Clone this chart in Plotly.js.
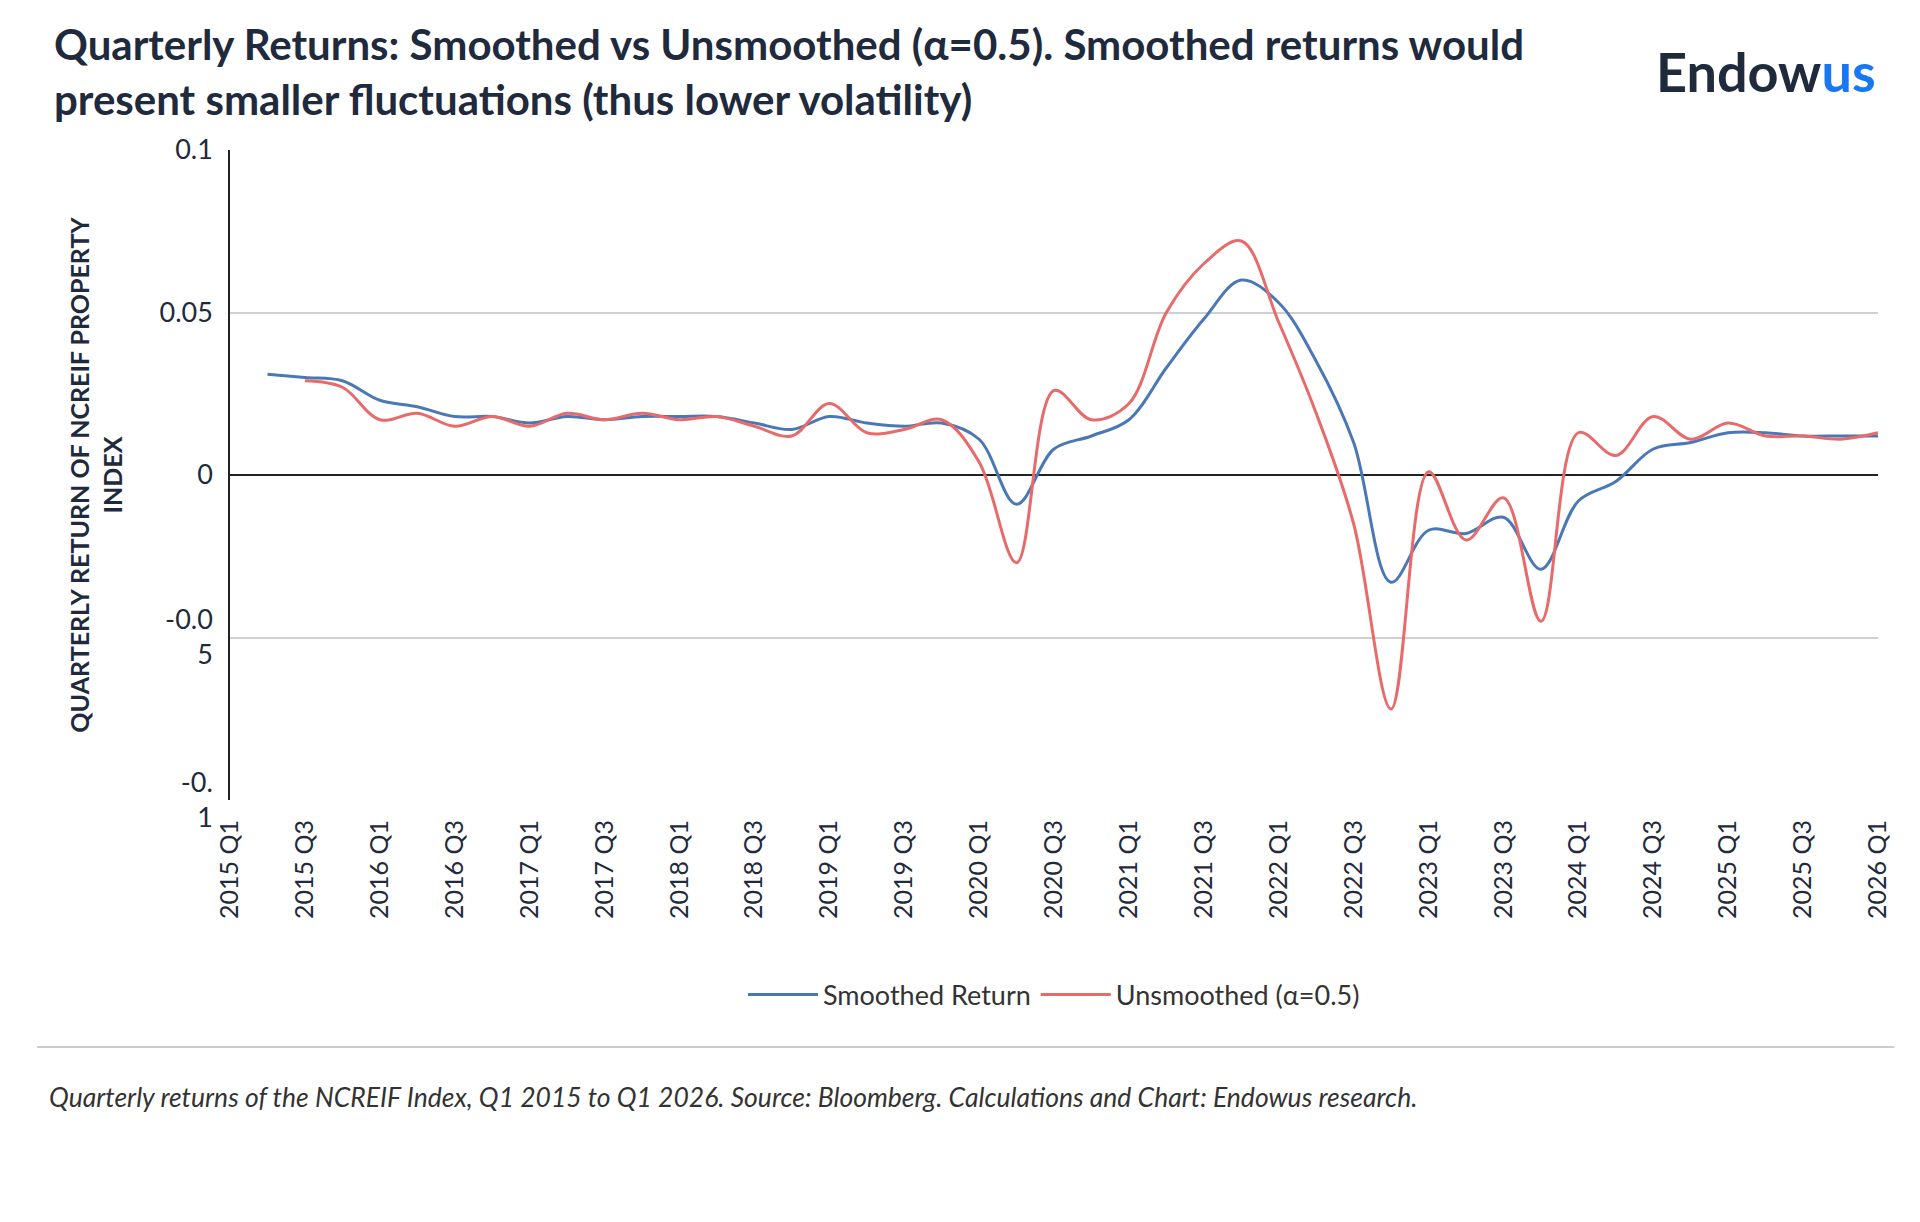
<!DOCTYPE html>
<html><head><meta charset="utf-8">
<script src="https://cdn.plot.ly/plotly-3.0.1.min.js"></script>
<style>body{margin:0;background:#fff}#chart{width:1920px;height:1222px}</style>
</head><body><div id="chart"></div>
<script>
// quarters 2015 Q1 .. 2026 Q1
const quarters = [];
for (let y = 2015; y <= 2026; y++) for (let q = 1; q <= 4; q++) if (!(y === 2026 && q > 1)) quarters.push(y + ' Q' + q);

const smoothed = [null, 0.031, 0.030, 0.029, 0.023, 0.021, 0.018, 0.018, 0.016, 0.018, 0.017, 0.018,
    0.018, 0.018, 0.016, 0.014, 0.018, 0.016, 0.015, 0.016, 0.011, -0.009, 0.008, 0.012,
    0.017, 0.033, 0.048, 0.060, 0.053, 0.035, 0.010, -0.033, -0.017, -0.018, -0.013, -0.029,
    -0.008, -0.002, 0.008, 0.010, 0.013, 0.013, 0.012, 0.012, 0.012];
const unsmoothed = [null, null, 0.029, 0.027, 0.017, 0.019, 0.015, 0.018, 0.015, 0.019, 0.017, 0.019,
    0.017, 0.018, 0.015, 0.012, 0.022, 0.013, 0.014, 0.017, 0.004, -0.027, 0.026, 0.017,
    0.022, 0.050, 0.065, 0.072, 0.047, 0.019, -0.015, -0.072, 0.001, -0.020, -0.007, -0.045,
    0.013, 0.006, 0.018, 0.011, 0.016, 0.012, 0.012, 0.011, 0.013];

const yTickVals = [0.1, 0.05, 0, -0.05, -0.1];
const yTickText = ['0.1', '0.05', '0', '-0.0<br>5', '-0.<br>1'];
const tickQuarters = quarters.filter((q, i) => i % 2 === 0);

const font = "Lato, 'Open Sans', sans-serif";

Plotly.newPlot('chart', [
    {x: quarters, y: smoothed, name: 'Smoothed Return', type: 'scatter', mode: 'lines',
     line: {color: '#4a78b5', width: 3, shape: 'spline'}},
    {x: quarters, y: unsmoothed, name: 'Unsmoothed (α=0.5)', type: 'scatter', mode: 'lines',
     line: {color: '#e86a6a', width: 3, shape: 'spline'}},
], {
    width: 1920, height: 1222,
    paper_bgcolor: '#fff', plot_bgcolor: '#fff',
    font: {family: font, color: '#1f2a3c', size: 24},
    margin: {l: 230, r: 42, t: 150, b: 422},
    showlegend: true,
    legend: {orientation: 'h', x: 0.5, xanchor: 'center', y: -0.3, yanchor: 'middle',
             font: {size: 27, color: '#333'}, itemwidth: 70, tracegroupgap: 40},
    xaxis: {type: 'category', tickvals: tickQuarters, tickangle: -90, showgrid: false,
            tickfont: {size: 25, color: '#1f2a3c'}, ticks: '', showline: false, zeroline: false,
            ticklabelstandoff: 14},
    yaxis: {range: [-0.1, 0.1], tickvals: yTickVals, ticktext: yTickText, showgrid: true,
            gridcolor: '#d0d0d0', gridwidth: 1.5, zeroline: true, zerolinecolor: '#222', zerolinewidth: 1.5,
            showline: true, linecolor: '#222', linewidth: 1.5, ticks: '',
            tickfont: {size: 27, color: '#1f2a3c'}, ticklabelstandoff: 10,
            title: {text: 'QUARTERLY RETURN OF NCREIF PROPERTY<br>INDEX', standoff: 30,
                    font: {size: 25, color: '#1f2a3c', weight: 'bold'}}},
    annotations: [
        {text: '<b>Quarterly Returns: Smoothed vs Unsmoothed (α=0.5). Smoothed returns would<br>present smaller fluctuations (thus lower volatility)</b>',
         xref: 'paper', yref: 'paper', x: -0.108, y: 1.205, xanchor: 'left', yanchor: 'top',
         align: 'left', showarrow: false, font: {size: 42, color: '#1f2a3c'}},
        {text: '<b>Endow<span style="color:#1877f2">us</span></b>', xref: 'paper', yref: 'paper',
         x: 1.0, y: 1.12, xanchor: 'right', yanchor: 'middle', showarrow: false,
         font: {size: 54, color: '#1f2a3c'}},
        {text: '<i>Quarterly returns of the NCREIF Index, Q1 2015 to Q1 2026. Source: Bloomberg. Calculations and Chart: Endowus research.</i>',
         xref: 'paper', yref: 'paper', x: -0.111, y: -0.457, xanchor: 'left', yanchor: 'middle',
         showarrow: false, font: {size: 26.5, color: '#333'}},
    ],
    shapes: [
        {type: 'line', xref: 'paper', yref: 'paper', x0: -0.117, x1: 1.01, y0: -0.38, y1: -0.38,
         line: {color: '#ccc', width: 2}},
    ],
}, {displayModeBar: false});
</script></body></html>
